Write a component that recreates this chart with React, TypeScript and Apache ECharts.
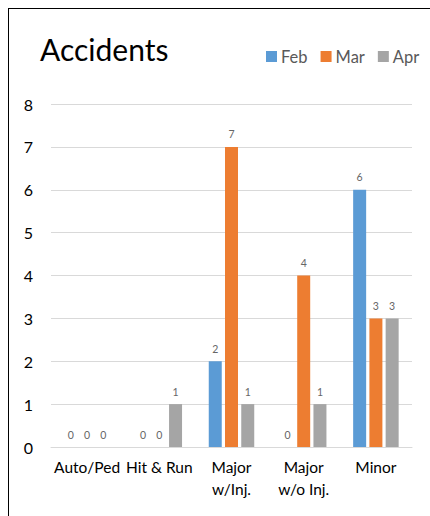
import React, { useEffect, useRef } from "react";
import * as echarts from "echarts";

const categories = ["Auto/Ped", "Hit & Run", "Major\nw/Inj.", "Major\nw/o Inj.", "Minor"];
const seriesNames = ["Feb", "Mar", "Apr"];
const febValues = [0, 0, 2, 0, 6];
const marValues = [0, 0, 7, 4, 3];
const aprValues = [0, 1, 1, 1, 3];
const colors = ["#5B9BD5", "#ED7D31", "#A5A5A5"];
const FONT = "Lato, 'Liberation Sans', sans-serif";

export default function App() {
  const ref = useRef<HTMLDivElement>(null);
  useEffect(() => {
    if (!ref.current) return;
    const chart = echarts.init(ref.current, undefined, { renderer: "svg" });
    const values = [febValues, marValues, aprValues];
    chart.setOption({
      animation: false,
      textStyle: { fontFamily: FONT },
      title: {
        text: "Accidents",
        left: 35,
        top: 29,
        textStyle: { fontFamily: FONT, fontSize: 30, fontWeight: "normal", color: "#000" },
      },
      legend: {
        left: 261,
        top: 43,
        icon: "rect",
        itemWidth: 11,
        itemHeight: 11,
        itemGap: 13,
        textStyle: { fontFamily: FONT, fontSize: 16.5, color: "#595959", padding: [0, 0, 0, -1] },
        data: seriesNames,
      },
      grid: { left: 51, right: 18, top: 104, bottom: 69, containLabel: false },
      xAxis: {
        type: "category",
        data: categories,
        axisLine: { lineStyle: { color: "#D9D9D9", width: 1 } },
        axisTick: { show: false },
        axisLabel: {
          interval: 0,
          margin: 9,
          fontFamily: FONT,
          fontSize: 15.5,
          lineHeight: 22,
          color: "#000",
        },
      },
      yAxis: {
        type: "value",
        min: 0,
        max: 8,
        interval: 1,
        axisLine: { show: false },
        axisTick: { show: false },
        splitLine: { lineStyle: { color: "#D9D9D9", width: 1 } },
        axisLabel: { margin: 18, fontFamily: FONT, fontSize: 16, color: "#000" },
      },
      graphic: [
        { type: "line", shape: { x1: 8.5, y1: 8, x2: 8.5, y2: 516 }, style: { stroke: "#000", lineWidth: 1 } },
        { type: "line", shape: { x1: 8, y1: 8.5, x2: 430, y2: 8.5 }, style: { stroke: "#000", lineWidth: 1 } },
      ],
      series: seriesNames.map((name, i) => ({
        name,
        type: "bar",
        data: values[i],
        barWidth: 13,
        barGap: "25%",
        itemStyle: { color: colors[i] },
        label: {
          show: true,
          position: "top",
          distance: 7,
          fontFamily: FONT,
          fontSize: 10.5,
          color: "#666",
        },
      })),
    });
    return () => chart.dispose();
  }, []);
  return (
    <div
      ref={ref}
      style={{ position: "absolute", left: 0, top: 0, width: 430, height: 516, background: "#fff" }}
    />
  );
}
